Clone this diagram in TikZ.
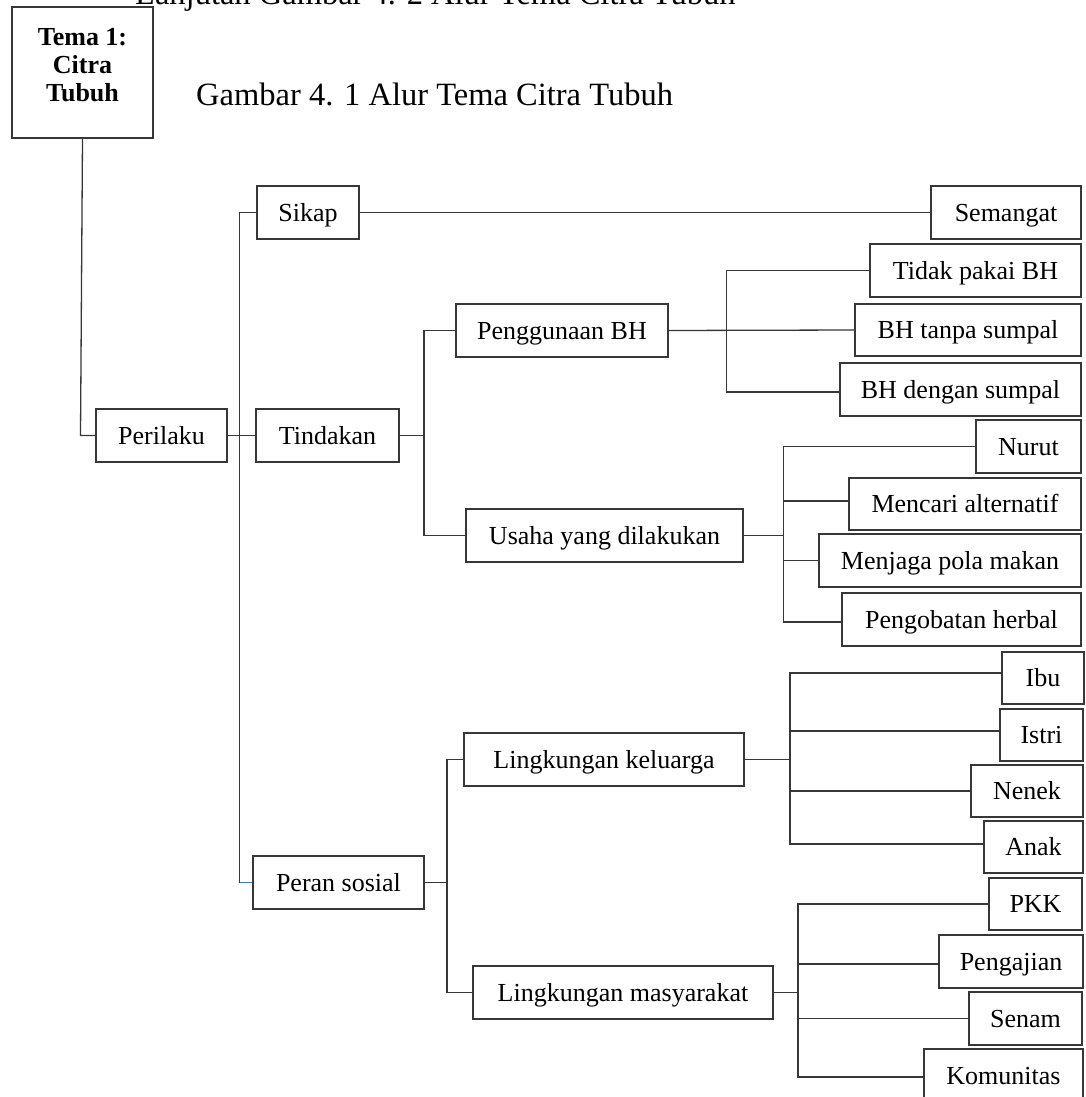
\documentclass[tikz,border=0pt]{standalone}
\usepackage{fontspec}
\setmainfont{Liberation Serif}
\definecolor{edge}{RGB}{55,55,55}
\definecolor{edgeblue}{RGB}{68,114,196}
\begin{document}
\begin{tikzpicture}[x=1pt, y=-1pt,
  box/.style={draw=edge, line width=1.3pt, minimum height=53pt, inner sep=0pt,
    font=\fontsize{26}{30}\selectfont, text height=17pt, text depth=0pt},
  link/.style={draw=edge, line width=1.3pt},
  caption/.style={anchor=base west, inner sep=0pt, font=\fontsize{32.5}{36}\selectfont}]

% page area
\fill[white] (0,0) rectangle (1085,1097);
\useasboundingbox (0,0) rectangle (1085,1097);

% captions
\node[caption] (lanjutan) at (135,5) {Lanjutan Gambar 4. 2 Alur Tema Citra Tubuh};
\node[caption] (judul) at (196,106) {Gambar 4. 1 Alur Tema Citra Tubuh};

% theme box
\node[draw=edge, line width=1.3pt, minimum width=141pt, minimum height=131pt, inner sep=0pt] (tema) at (82.5,72.5) {};
\node[anchor=north, inner sep=0pt, align=center, font=\bfseries\fontsize{26}{28}\selectfont] (tematext) at (82.5,28.5) {Tema 1:\\Citra\\Tubuh};

% first level
\node[box, minimum width=131pt] (perilaku) at (161.5,435.5) {Perilaku};

% second level
\node[box, minimum width=102pt] (sikap) at (308,212.5) {Sikap};
\node[box, minimum width=143pt] (tindakan) at (327.5,435.5) {Tindakan};
\node[box, minimum width=171pt] (peran) at (338.5,882.5) {Peran sosial};

% third level
\node[box, minimum width=150pt] (semangat) at (1006,212.5) {Semangat};
\node[box, minimum width=212pt] (penggunaan) at (562,330.5) {Penggunaan BH};
\node[box, minimum width=277pt] (usaha) at (604.5,535.5) {Usaha yang dilakukan};
\node[box, minimum width=280pt] (keluarga) at (604,759.5) {Lingkungan keluarga};
\node[box, minimum width=300pt] (masyarakat) at (623,992.5) {Lingkungan masyarakat};

% leaves
\node[box, minimum width=211pt] (tidak) at (975.5,270.5) {Tidak pakai BH};
\node[box, minimum width=226pt, minimum height=52pt] (tanpa) at (968,330) {BH tanpa sumpal};
\node[box, minimum width=241pt] (dengan) at (960.5,389.5) {BH dengan sumpal};

\node[box, minimum width=105pt] (nurut) at (1028.5,446.5) {Nurut};
\node[box, minimum width=232pt, minimum height=52pt] (mencari) at (965,504) {Mencari alternatif};
\node[box, minimum width=262pt] (menjaga) at (950,560.5) {Menjaga pola makan};
\node[box, minimum width=239pt] (pengobatan) at (961.5,619.5) {Pengobatan herbal};

\node[box, minimum width=82pt, minimum height=52pt] (ibu) at (1043,678) {Ibu};
\node[box, minimum width=83pt, minimum height=52pt] (istri) at (1041.5,735) {Istri};
\node[box, minimum width=112pt, minimum height=52pt] (nenek) at (1027,791) {Nenek};
\node[box, minimum width=99pt, minimum height=52pt] (anak) at (1033.5,847) {Anak};

\node[box, minimum width=93pt, minimum height=52pt] (pkk) at (1035.5,904) {PKK};
\node[box, minimum width=144pt] (pengajian) at (1011,961.5) {Pengajian};
\node[box, minimum width=113pt] (senam) at (1025.5,1018.5) {Senam};
\node[box, minimum width=159pt] (komunitas) at (1003.5,1075.5) {Komunitas};

% theme to first level
\draw[link] (tema.south) -- (80.5,435.5) -- (perilaku.west);

% Perilaku bracket
\coordinate (pj) at (239.5,882.5);
\draw[link] (sikap.west) -| (pj);
\draw[link, draw=edgeblue] (pj) -- (peran.west);
\draw[link] (perilaku.east) -- (tindakan.west);
\draw[link] (sikap.east) -- (semangat.west);

% Tindakan bracket
\coordinate (tj) at (424,435.5);
\draw[link] (tindakan.east) -- (tj);
\draw[link] (penggunaan.west) -| (tj) |- (usaha.west);

% Penggunaan BH bracket
\coordinate (gj) at (726.5,330.5);
\draw[link] (penggunaan.east) -- (tanpa.west);
\draw[link] (tidak.west) -| (gj) |- ([yshift=-2.5pt]dengan.west);

% Usaha bracket
\coordinate (uj) at (783.5,535.5);
\draw[link] (usaha.east) -- (uj);
\draw[link] (nurut.west) -| (uj) |- ([yshift=-2.5pt]pengobatan.west);
\path ([yshift=3pt]mencari.west) coordinate (mc);
\draw[link] (mc) -- (mc -| uj);
\draw[link] (menjaga.west) -- (menjaga.west -| uj);

% Peran sosial bracket
\coordinate (rj) at (447,882.5);
\draw[link] (peran.east) -- (rj);
\draw[link] (keluarga.west) -| (rj) |- (masyarakat.west);

% Keluarga bracket
\coordinate (kj) at (790,759.5);
\draw[link] (keluarga.east) -- (kj);
\path ([yshift=5pt]ibu.west) coordinate (ib)
      ([yshift=4pt]istri.west) coordinate (is)
      ([yshift=3pt]anak.west) coordinate (an);
\draw[link] (ib) -| (kj) |- (an);
\draw[link] (is) -- (is -| kj);
\draw[link] (nenek.west) -- (nenek.west -| kj);

% Masyarakat bracket
\coordinate (mj) at (798,992.5);
\draw[link] (masyarakat.east) -- (mj);
\path ([yshift=-2.5pt]pengajian.west) coordinate (pg)
      ([yshift=-1.5pt]komunitas.west) coordinate (km);
\draw[link] (pkk.west) -| (mj) |- (km);
\draw[link] (pg) -- (pg -| mj);
\draw[link] (senam.west) -- (senam.west -| mj);
\end{tikzpicture}
\end{document}
